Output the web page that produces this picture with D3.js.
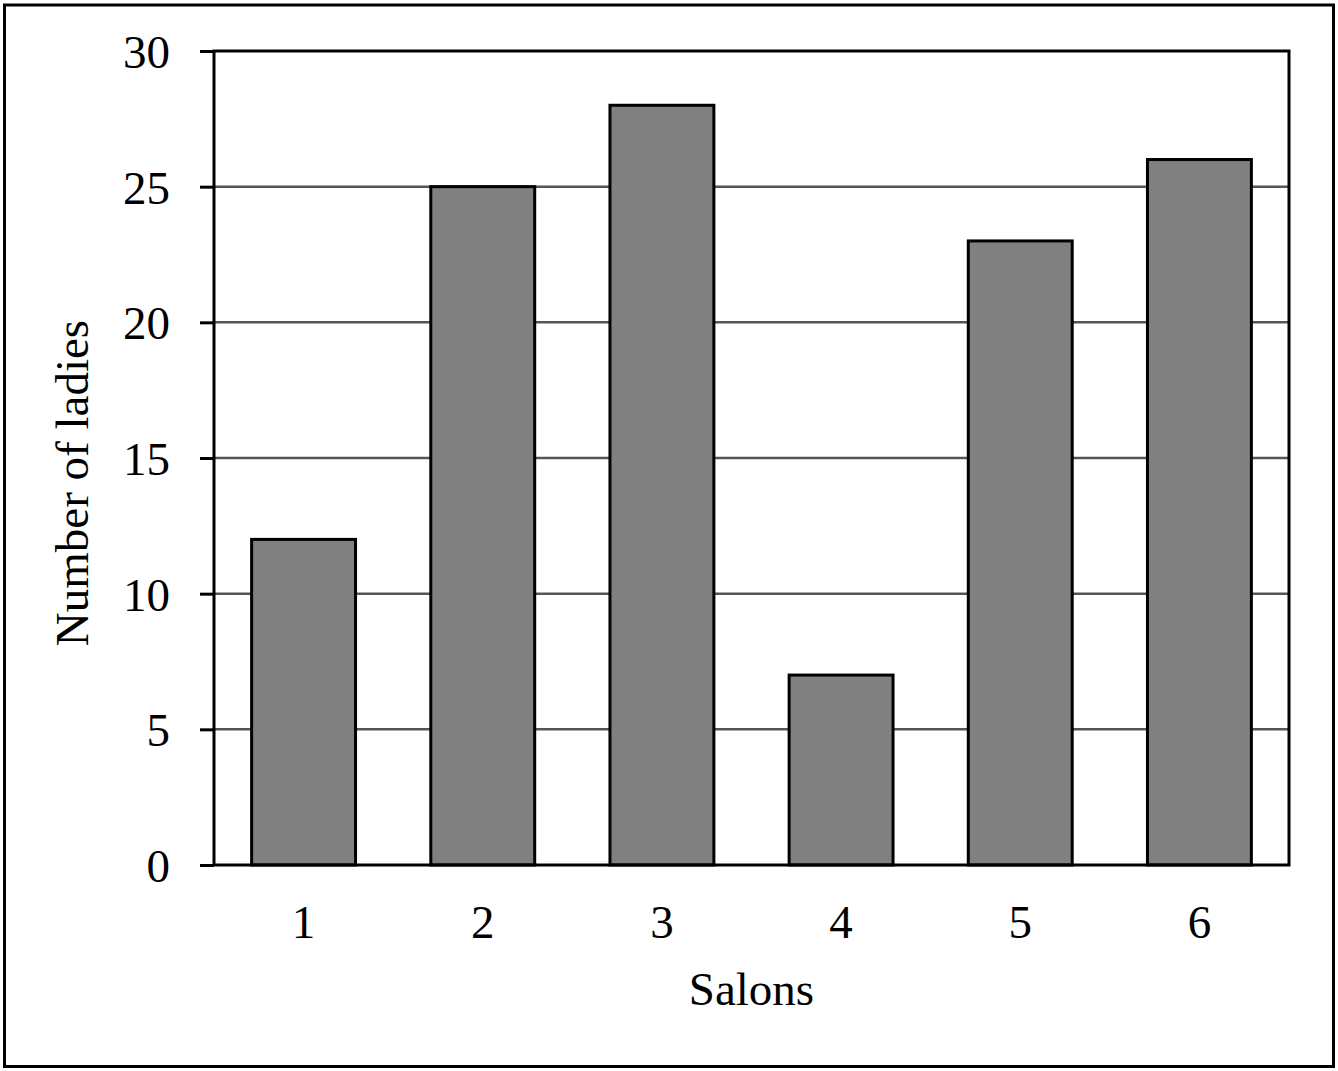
<!DOCTYPE html>
<html>
<head>
<meta charset="utf-8">
<script src="https://cdn.jsdelivr.net/npm/d3@7"></script>
<style>
	body { margin: 0; background: #fff; }
	text { font-family: "Liberation Serif", "DejaVu Serif", serif; fill: #000; }
</style>
</head>
<body>
<div id="chart"></div>
<script>
// chart data
const salons = ["1", "2", "3", "4", "5", "6"],
	ladies = [12, 25, 28, 7, 23, 26],
	yTicks = [0, 5, 10, 15, 20, 25, 30];

const W = 1338, H = 1071,
	fontSize = 47;
var margin = {top: 51, right: 49, bottom: 206, left: 214},
	width = W - margin.left - margin.right,
	height = H - margin.top - margin.bottom;

var svg = d3.select("#chart").append("svg")
	.attr("width", W)
	.attr("height", H);

// outer frame
svg.append("rect")
	.attr("x", 4.5).attr("y", 5)
	.attr("width", W - 9).attr("height", H - 9.5)
	.attr("fill", "none")
	.attr("stroke", "#000")
	.attr("stroke-width", 3);

var chart = svg.append("g")
	.attr("transform", "translate(" + margin.left + "," + margin.top + ")");

var x = d3.scaleBand()
	.domain(salons)
	.range([0, width])
	.paddingInner(0.42)
	.paddingOuter(0.21);

var y = d3.scaleLinear()
	.domain([0, 30])
	.range([height, 0]);

// gridlines
chart.append("g")
	.selectAll("line")
	.data(yTicks.filter(d => d > 0 && d < 30))
	.enter().append("line")
	.attr("x1", 0).attr("x2", width)
	.attr("y1", d => y(d)).attr("y2", d => y(d))
	.attr("stroke", "#555")
	.attr("stroke-width", 2.5);

// bars
chart.append("g")
	.selectAll("rect")
	.data(ladies)
	.enter().append("rect")
	.attr("x", (d, i) => x(salons[i]))
	.attr("y", d => y(d))
	.attr("width", x.bandwidth())
	.attr("height", d => height - y(d))
	.attr("fill", "#808080")
	.attr("stroke", "#000")
	.attr("stroke-width", 3);

// plot frame
chart.append("rect")
	.attr("x", 0).attr("y", 0)
	.attr("width", width).attr("height", height)
	.attr("fill", "none")
	.attr("stroke", "#000")
	.attr("stroke-width", 3);

// y axis
var yAxis = chart.append("g")
	.call(d3.axisLeft(y).tickValues(yTicks).tickSize(14).tickPadding(30));
yAxis.select(".domain").remove();
yAxis.selectAll("line").attr("stroke", "#000").attr("stroke-width", 3);
yAxis.selectAll("text")
	.attr("font-size", fontSize)
	.attr("dy", "0.35em")
	.style("font-family", "Liberation Serif, serif");

// x axis labels
var xAxis = chart.append("g")
	.attr("transform", "translate(0," + height + ")")
	.call(d3.axisBottom(x).tickSize(0).tickPadding(40));
xAxis.select(".domain").remove();
xAxis.selectAll("text")
	.attr("font-size", fontSize)
	.style("font-family", "Liberation Serif, serif");

// axis titles
svg.append("text")
	.attr("x", margin.left + width / 2)
	.attr("y", 1005)
	.attr("text-anchor", "middle")
	.attr("font-size", fontSize)
	.text("Salons");

svg.append("text")
	.attr("transform", "translate(88,483) rotate(-90)")
	.attr("text-anchor", "middle")
	.attr("font-size", fontSize)
	.text("Number of ladies");
</script>
</body>
</html>
